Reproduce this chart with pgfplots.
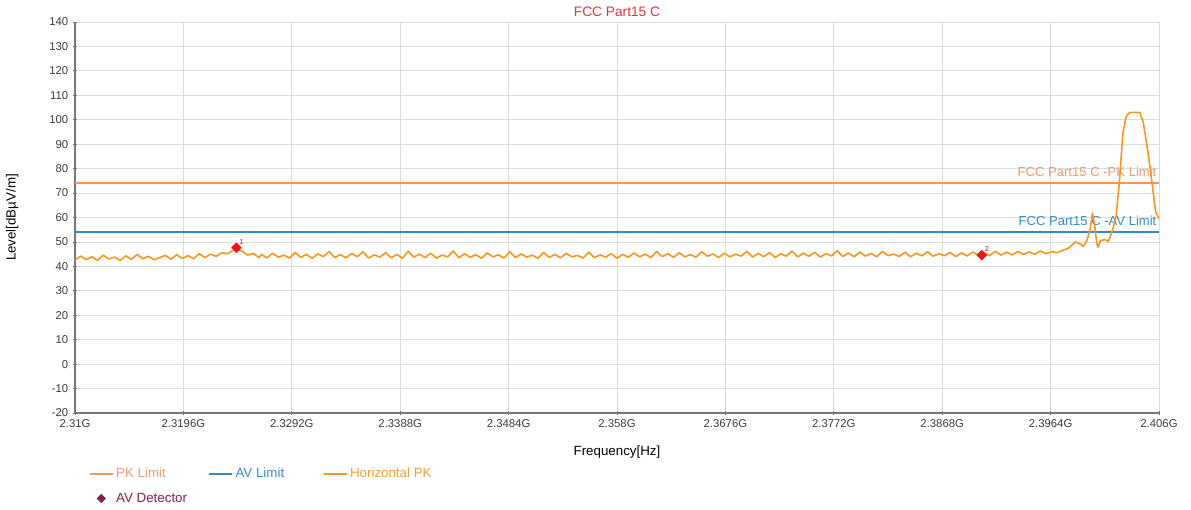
\documentclass[border=0pt]{standalone}
\usepackage{fontspec}
\setmainfont{Liberation Sans}
\usepackage{pgfplots}
\pgfplotsset{compat=1.18}

\definecolor{trace}{RGB}{250,150,30}
\definecolor{pklim}{RGB}{242,150,85}
\definecolor{avlim}{RGB}{45,140,200}
\definecolor{pktext}{RGB}{236,155,115}
\definecolor{avtext}{RGB}{55,140,195}
\definecolor{hpktext}{RGB}{242,160,60}
\definecolor{titlered}{RGB}{230,50,60}
\definecolor{mkred}{RGB}{232,20,30}
\definecolor{avdet}{RGB}{130,30,80}
\definecolor{txt}{RGB}{60,60,60}
\definecolor{gridc}{RGB}{220,220,220}
\definecolor{axisc}{RGB}{120,120,120}

\begin{document}
\begin{tikzpicture}
\begin{axis}[
    scale only axis,
    width=813pt, height=293.25pt,
    xmin=2310, xmax=2406,
    ymin=-20, ymax=140,
    xtick={2310,2319.6,2329.2,2338.8,2348.4,2358,2367.6,2377.2,2386.8,2396.4,2406},
    xticklabels={2.31G,2.3196G,2.3292G,2.3388G,2.3484G,2.358G,2.3676G,2.3772G,2.3868G,2.3964G,2.406G},
    ytick={-20,-10,...,140},
    /pgf/number format/assume math mode=true,
    tick label style={font=\fontsize{8.5}{10}\selectfont, text=txt},
    axis x line=bottom, axis y line=left,
    axis line style={draw=axisc, line width=1.1pt, -},
    tick style={draw=axisc, line width=0.6pt},
    major tick length=3pt,
    grid=major,
    major grid style={draw=gridc, line width=0.6pt},
    xlabel={Frequency[Hz]},
    ylabel={Level[dBµV/m]},
    label style={font=\fontsize{8.5}{10}\selectfont, text=txt},
    every axis x label/.style={at={(axis description cs:0.5,-0.1)}, anchor=center},
    every axis y label/.style={at={(axis description cs:-0.058,0.5)}, rotate=90, anchor=center},
    title={FCC Part15 C},
    every axis title/.style={font=\fontsize{10.3}{12}\selectfont, text=titlered, at={(axis description cs:0.5,1.026)}, anchor=center},
    legend columns=3,
    legend cell align=left,
    legend image post style={line width=1.3pt},
    legend style={at={(axis description cs:0.009,-0.126)}, anchor=north west, draw=none, fill=none,
        font=\fontsize{10}{12}\selectfont, row sep=6pt,
        nodes={inner sep=2pt},
        /tikz/column 2/.style={column sep=14pt},
        /tikz/column 4/.style={column sep=27pt}},
]
\addplot[draw=pklim, line width=1.3pt] coordinates {(2310,74) (2406,74)}
    node[pos=1, anchor=south east, yshift=1pt, xshift=2pt, text=pktext, font=\fontsize{9.8}{11}\selectfont] {FCC Part15 C -PK Limit};
\addlegendentry{\textcolor{pktext}{PK Limit}}
\addplot[draw=avlim, line width=1.3pt] coordinates {(2310,54) (2406,54)}
    node[pos=1, anchor=south east, yshift=1pt, xshift=2pt, text=avtext, font=\fontsize{9.8}{11}\selectfont] {FCC Part15 C -AV Limit};
\addlegendentry{\textcolor{avtext}{AV Limit}}
\addplot[draw=trace, line width=1.2pt, line join=round] coordinates {
(2310.0,42.6) (2310.5,44.2) (2311.0,42.8) (2311.5,43.9) (2312.0,42.5) (2312.5,44.6)
(2313.0,43.0) (2313.5,43.8) (2314.0,42.4) (2314.5,44.3) (2315.0,42.9) (2315.5,44.9)
(2316.0,43.1) (2316.5,44.1) (2317.0,42.7) (2317.5,43.6) (2318.0,44.5) (2318.5,42.9)
(2319.0,44.8) (2319.5,43.2) (2320.0,44.4) (2320.5,43.1) (2321.0,45.2) (2321.5,43.6)
(2322.0,45.0) (2322.5,44.1) (2323.0,45.6) (2323.5,45.2) (2324.0,46.6) (2324.3,47.3)
(2324.8,46.2) (2325.3,44.6) (2325.8,45.3) (2326.3,43.6)
(2326.5,44.9) (2327.0,43.5) (2327.5,45.4) (2328.0,43.8) (2328.5,44.6) (2329.0,43.4)
(2329.5,45.7) (2330.0,43.7) (2330.5,44.9) (2331.0,43.3) (2331.5,45.1) (2332.0,44.0)
(2332.5,46.1) (2333.0,43.6) (2333.5,44.8) (2334.0,43.5) (2334.5,45.3) (2335.0,43.9)
(2335.5,46.0) (2336.0,43.4) (2336.5,44.7) (2337.0,43.8) (2337.5,45.6) (2338.0,43.5)
(2338.5,44.9) (2339.0,43.3) (2339.5,46.2) (2340.0,43.8) (2340.5,45.0) (2341.0,43.6)
(2341.5,45.4) (2342.0,43.4) (2342.5,44.6) (2343.0,43.9) (2343.5,46.3) (2344.0,43.5)
(2344.5,45.2) (2345.0,43.7) (2345.5,44.8) (2346.0,43.3) (2346.5,45.5) (2347.0,43.9)
(2347.5,44.7) (2348.0,43.4) (2348.5,46.0) (2349.0,43.6) (2349.5,45.1) (2350.0,43.8)
(2350.5,44.6) (2351.0,43.3) (2351.5,45.7) (2352.0,43.7) (2352.5,44.9) (2353.0,43.5)
(2353.5,45.3) (2354.0,43.9) (2354.5,44.5) (2355.0,43.4) (2355.5,45.8) (2356.0,43.6)
(2356.5,44.7) (2357.0,43.8) (2357.5,45.2) (2358.0,43.3) (2358.5,44.9) (2359.0,43.7)
(2359.5,45.5) (2360.0,43.9) (2360.5,45.0) (2361.0,43.6) (2361.5,46.1) (2362.0,44.0)
(2362.5,45.2) (2363.0,43.7) (2363.5,45.6) (2364.0,43.9) (2364.5,44.8) (2365.0,43.8)
(2365.5,46.0) (2366.0,44.1) (2366.5,45.1) (2367.0,43.6) (2367.5,45.4) (2368.0,43.9)
(2368.5,45.0) (2369.0,44.2) (2369.5,46.2) (2370.0,43.8) (2370.5,45.3) (2371.0,44.0)
(2371.5,45.6) (2372.0,43.7) (2372.5,45.1) (2373.0,44.2) (2373.5,46.3) (2374.0,43.9)
(2374.5,45.4) (2375.0,44.1) (2375.5,45.8) (2376.0,43.8) (2376.5,45.2) (2377.0,44.3)
(2377.5,46.4) (2378.0,44.0) (2378.5,45.5) (2379.0,43.9) (2379.5,45.9) (2380.0,44.2)
(2380.5,45.3) (2381.0,43.9) (2381.5,46.1) (2382.0,44.4) (2382.5,45.0) (2383.0,44.1)
(2383.5,45.8) (2384.0,43.9) (2384.5,45.4) (2385.0,44.3) (2385.5,46.0) (2386.0,44.1)
(2386.5,45.2) (2387.0,44.4) (2387.5,45.7) (2388.0,44.0) (2388.5,45.5) (2389.0,44.3)
(2389.5,45.9) (2390.0,44.5) (2390.5,45.6) (2391.0,44.4) (2391.5,46.2) (2392.0,44.6)
(2392.5,45.8) (2393.0,44.7) (2393.5,46.1) (2394.0,44.9) (2394.5,45.9) (2395.0,45.0)
(2395.5,46.3) (2396.0,45.2) (2396.5,46.0) (2397.0,45.6) (2397.5,46.6) (2398.0,47.5)
(2398.6,50.0) (2399.0,49.2) (2399.3,48.2) (2399.6,50.5) (2399.9,55.0) (2400.1,61.8)
(2400.3,57.0) (2400.5,49.0) (2400.6,47.8) (2400.8,50.5) (2401.2,51.0) (2401.5,50.2)
(2401.7,52.5) (2401.9,55.0) (2402.2,60.5) (2402.5,75.0) (2402.8,94.5) (2403.1,101.5)
(2403.4,103.0) (2404.3,103.0) (2404.6,99.0) (2405.0,87.5) (2405.4,73.5) (2405.7,62.5)
(2406.0,59.5)
};
\addlegendentry{\textcolor{hpktext}{Horizontal PK}}
\addplot[only marks, mark=square*, mark size=2.6pt, color=mkred,
    mark options={rotate=45},
    nodes near coords, point meta=explicit symbolic,
    every node near coord/.append style={anchor=south west, font=\fontsize{5.5}{6}\selectfont, text=mkred, inner sep=0pt, xshift=2.2pt, yshift=2.2pt},
    forget plot] coordinates {
(2324.3,47.6) [1]
(2390.3,44.6) [2]
};
\addlegendimage{only marks, mark=square*, mark size=1.8pt, mark options={rotate=45}, color=avdet}
\addlegendentry{\textcolor{avdet}{AV Detector}}
\end{axis}
\pgfresetboundingbox
\path (current axis.south west) ++(-56.25pt,-72pt) coordinate (bbA);
\path (current axis.north east) ++(24pt,16.5pt) coordinate (bbB);
\path[use as bounding box] (bbA) rectangle (bbB);
\end{tikzpicture}
\end{document}
